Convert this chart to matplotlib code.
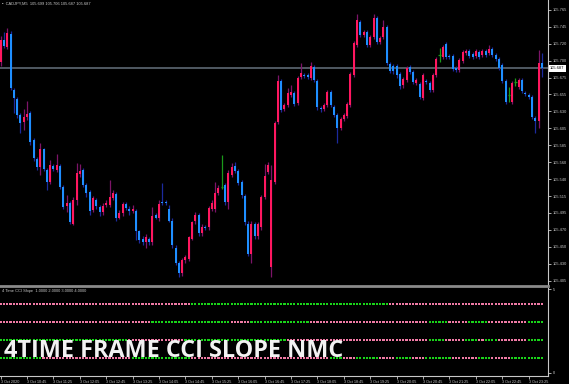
import numpy as np
import matplotlib
matplotlib.use("Agg")
import matplotlib.pyplot as plt
from matplotlib.transforms import blended_transform_factory

symbol_header = "CADJPY,M5  105.699 105.706 105.687 105.687"
indicator_header = "4 Time CCI Slope  1.0000 2.0000 3.0000 4.0000"
banner = "4TIME FRAME CCI SLOPE NMC"

# M5 candles
opens = [105.696, 105.725, 105.716, 105.733, 105.658, 105.646, 105.625, 105.616, 105.622, 105.628,
         105.592, 105.567, 105.556, 105.580, 105.552, 105.536, 105.557, 105.552, 105.557, 105.529,
         105.504, 105.508, 105.481, 105.512, 105.547, 105.552, 105.532, 105.523, 105.499, 105.512,
         105.503, 105.496, 105.505, 105.505, 105.515, 105.520, 105.489, 105.495, 105.507, 105.500,
         105.497, 105.497, 105.471, 105.461, 105.456, 105.460, 105.456, 105.492, 105.489, 105.509,
         105.509, 105.500, 105.485, 105.449, 105.428, 105.415, 105.432, 105.434, 105.461, 105.484,
         105.492, 105.468, 105.476, 105.476, 105.500, 105.500, 105.521, 105.529, 105.532, 105.509,
         105.545, 105.557, 105.551, 105.536, 105.517, 105.481, 105.441, 105.480, 105.464, 105.476,
         105.516, 105.549, 105.423, 105.536, 105.616, 105.670, 105.633, 105.638, 105.652, 105.654,
         105.641, 105.676, 105.678, 105.678, 105.674, 105.689, 105.670, 105.634, 105.633, 105.638,
         105.656, 105.636, 105.625, 105.608, 105.620, 105.624, 105.638, 105.678, 105.718, 105.749,
         105.731, 105.735, 105.718, 105.729, 105.754, 105.722, 105.729, 105.742, 105.693, 105.690,
         105.690, 105.680, 105.665, 105.672, 105.689, 105.682, 105.668, 105.666, 105.648, 105.670,
         105.668, 105.658, 105.678, 105.705, 105.702, 105.719, 105.704, 105.704, 105.688, 105.685,
         105.697, 105.708, 105.710, 105.706, 105.704, 105.709, 105.705, 105.710, 105.708, 105.713,
         105.705, 105.700, 105.692, 105.670, 105.652, 105.642, 105.669, 105.662, 105.672, 105.654,
         105.652, 105.649, 105.621, 105.617, 105.694]
highs = [105.730, 105.735, 105.741, 105.737, 105.661, 105.649, 105.628, 105.633, 105.644, 105.630,
         105.594, 105.569, 105.588, 105.582, 105.555, 105.565, 105.560, 105.574, 105.560, 105.532,
         105.519, 105.511, 105.516, 105.561, 105.560, 105.555, 105.535, 105.525, 105.517, 105.515,
         105.505, 105.508, 105.512, 105.539, 105.525, 105.523, 105.499, 105.509, 105.509, 105.504,
         105.505, 105.500, 105.473, 105.464, 105.467, 105.463, 105.503, 105.495, 105.512, 105.535,
         105.512, 105.505, 105.488, 105.452, 105.431, 105.435, 105.439, 105.465, 105.485, 105.496,
         105.495, 105.480, 105.479, 105.504, 105.512, 105.536, 105.532, 105.572, 105.535, 105.552,
         105.561, 105.563, 105.553, 105.539, 105.520, 105.484, 105.484, 105.483, 105.483, 105.519,
         105.560, 105.563, 105.559, 105.617, 105.678, 105.673, 105.641, 105.661, 105.665, 105.657,
         105.677, 105.694, 105.681, 105.681, 105.696, 105.692, 105.673, 105.637, 105.641, 105.658,
         105.658, 105.638, 105.628, 105.622, 105.628, 105.642, 105.682, 105.723, 105.759, 105.751,
         105.738, 105.738, 105.731, 105.759, 105.757, 105.730, 105.751, 105.745, 105.696, 105.693,
         105.693, 105.682, 105.676, 105.690, 105.692, 105.685, 105.674, 105.669, 105.681, 105.673,
         105.670, 105.681, 105.702, 105.714, 105.718, 105.722, 105.706, 105.706, 105.690, 105.701,
         105.712, 105.713, 105.713, 105.709, 105.713, 105.712, 105.713, 105.713, 105.718, 105.716,
         105.708, 105.702, 105.694, 105.673, 105.662, 105.670, 105.674, 105.674, 105.674, 105.657,
         105.654, 105.652, 105.624, 105.712, 105.708]
lows = [105.690, 105.714, 105.713, 105.658, 105.628, 105.621, 105.601, 105.605, 105.618, 105.586,
        105.564, 105.552, 105.545, 105.551, 105.525, 105.533, 105.551, 105.549, 105.527, 105.500,
        105.496, 105.480, 105.479, 105.505, 105.543, 105.529, 105.516, 105.493, 105.496, 105.500,
        105.491, 105.493, 105.503, 105.503, 105.512, 105.485, 105.487, 105.491, 105.499, 105.493,
        105.495, 105.459, 105.455, 105.452, 105.448, 105.453, 105.452, 105.487, 105.485, 105.505,
        105.505, 105.483, 105.449, 105.426, 105.410, 105.411, 105.429, 105.431, 105.459, 105.481,
        105.465, 105.465, 105.472, 105.473, 105.497, 105.496, 105.519, 105.527, 105.505, 105.500,
        105.543, 105.548, 105.532, 105.515, 105.479, 105.438, 105.429, 105.461, 105.461, 105.473,
        105.513, 105.547, 105.410, 105.533, 105.613, 105.629, 105.630, 105.636, 105.649, 105.637,
        105.638, 105.673, 105.674, 105.673, 105.672, 105.669, 105.632, 105.629, 105.630, 105.636,
        105.636, 105.622, 105.588, 105.605, 105.617, 105.621, 105.636, 105.676, 105.716, 105.729,
        105.729, 105.716, 105.716, 105.726, 105.719, 105.719, 105.726, 105.692, 105.681, 105.680,
        105.674, 105.660, 105.661, 105.669, 105.680, 105.666, 105.665, 105.646, 105.645, 105.666,
        105.656, 105.656, 105.676, 105.696, 105.700, 105.700, 105.700, 105.684, 105.682, 105.682,
        105.694, 105.705, 105.701, 105.700, 105.701, 105.700, 105.702, 105.702, 105.705, 105.702,
        105.697, 105.685, 105.668, 105.640, 105.642, 105.640, 105.664, 105.660, 105.654, 105.650,
        105.646, 105.620, 105.601, 105.608, 105.676]
closes = [105.725, 105.717, 105.734, 105.661, 105.648, 105.625, 105.614, 105.622, 105.626, 105.589,
          105.568, 105.556, 105.580, 105.553, 105.536, 105.559, 105.553, 105.559, 105.529, 105.503,
          105.508, 105.483, 105.512, 105.548, 105.551, 105.532, 105.521, 105.497, 105.515, 105.504,
          105.496, 105.504, 105.508, 105.516, 105.521, 105.489, 105.495, 105.507, 105.501, 105.497,
          105.500, 105.471, 105.459, 105.456, 105.463, 105.456, 105.491, 105.489, 105.507, 105.508,
          105.508, 105.485, 105.452, 105.429, 105.415, 105.432, 105.436, 105.463, 105.483, 105.492,
          105.468, 105.477, 105.475, 105.501, 105.508, 105.521, 105.528, 105.529, 105.509, 105.548,
          105.556, 105.551, 105.535, 105.519, 105.483, 105.441, 105.481, 105.465, 105.480, 105.516,
          105.544, 105.559, 105.539, 105.614, 105.670, 105.632, 105.638, 105.654, 105.656, 105.640,
          105.674, 105.681, 105.677, 105.676, 105.690, 105.672, 105.636, 105.633, 105.638, 105.656,
          105.638, 105.625, 105.608, 105.620, 105.625, 105.640, 105.680, 105.721, 105.751, 105.731,
          105.735, 105.718, 105.729, 105.754, 105.722, 105.727, 105.742, 105.694, 105.684, 105.684,
          105.678, 105.664, 105.673, 105.688, 105.682, 105.669, 105.672, 105.649, 105.678, 105.669,
          105.658, 105.678, 105.700, 105.705, 105.716, 105.702, 105.702, 105.686, 105.685, 105.698,
          105.709, 105.710, 105.704, 105.702, 105.710, 105.702, 105.710, 105.705, 105.713, 105.705,
          105.700, 105.688, 105.670, 105.642, 105.652, 105.668, 105.669, 105.672, 105.657, 105.653,
          105.649, 105.622, 105.617, 105.694, 105.687]
last_price = 105.687

price_labels = ["105.765", "105.745", "105.720", "105.700", "105.675", "105.655", "105.630",
                "105.605", "105.585", "105.560", "105.540", "105.515", "105.495", "105.470",
                "105.450", "105.430", "105.405"]
time_labels = ["3 Oct 2020", "3 Oct 10:45", "3 Oct 11:25", "3 Oct 12:05", "3 Oct 12:45",
               "3 Oct 13:25", "3 Oct 14:05", "3 Oct 14:45", "3 Oct 15:25", "3 Oct 16:05",
               "3 Oct 16:45", "3 Oct 17:25", "3 Oct 18:05", "3 Oct 18:45", "3 Oct 19:25",
               "3 Oct 20:05", "3 Oct 20:45", "3 Oct 21:25", "3 Oct 22:05", "3 Oct 22:45",
               "3 Oct 23:25"]

# CCI slope per timeframe, as runs of (state, bars): p = falling, g = rising
slope_tf4 = [("p", 58), ("g", 60), ("p", 47)]
slope_tf3 = [("p", 46), ("g", 24), ("p", 6), ("g", 18), ("p", 36), ("g", 6), ("p", 6), ("g", 6),
             ("p", 12), ("g", 5)]
slope_tf2 = [("g", 39), ("p", 17), ("g", 31), ("p", 43), ("g", 5), ("p", 6), ("g", 4), ("p", 2),
             ("g", 4), ("p", 9), ("g", 5)]
slope_tf1 = [("g", 13), ("p", 27), ("g", 18), ("p", 42), ("g", 4), ("p", 4), ("g", 7), ("p", 5),
             ("g", 5), ("p", 4), ("g", 8), ("p", 8), ("g", 4), ("p", 6), ("g", 10)]

BG = "#000000"
FG = "#c8c8c8"
UP, DOWN = "#ff175f", "#1e8fff"
UP_WICK, DOWN_WICK = "#7d1468", "#1c2a9e"
DOJI = "#1a9a1a"
DOT = {"p": "#f07aa5", "g": "#19d419"}
PX = 3.3  # pixels per bar
SMALL = dict(family="Liberation Sans", color=FG)


def draw_candles(ax):
    o, h, l, c = map(np.array, (opens, highs, lows, closes))
    x = np.arange(len(c))
    up = c > o
    down = c < o
    flat = ~(up | down)
    ax.vlines(x[up], l[up], h[up], color=UP_WICK, lw=0.9, zorder=2)
    ax.vlines(x[down], l[down], h[down], color=DOWN_WICK, lw=0.9, zorder=2)
    ax.vlines(x[flat], l[flat], h[flat], color=DOJI, lw=0.9, zorder=2)
    body = np.maximum(np.abs(c - o), 0.0012)
    ax.bar(x[up], body[up], bottom=o[up], width=0.62, color=UP, lw=0, zorder=3)
    ax.bar(x[down], body[down], bottom=c[down], width=0.62, color=DOWN, lw=0, zorder=3)
    ax.hlines(c[flat], x[flat] - 0.35, x[flat] + 0.35, color=DOJI, lw=0.9, zorder=3)


def style(ax):
    ax.set_facecolor(BG)
    for s in ("left", "top"):
        ax.spines[s].set_visible(False)
    ax.spines["right"].set_color(FG)
    ax.spines["right"].set_linewidth(0.8)
    ax.yaxis.tick_right()
    ax.tick_params(axis="y", colors=FG, labelsize=2.9, length=2, width=0.6, pad=1.5)


fig = plt.figure(figsize=(5.69, 3.84), dpi=100, facecolor=BG)
W, H = 569, 384
xlim = (-0.2, 548 / PX - 0.2)

ax = fig.add_axes([0, (H - 286) / H, 548 / W, 286 / H])
style(ax)
ax.spines["bottom"].set_color("#8a8a8a")
ax.spines["bottom"].set_linewidth(2.0)
draw_candles(ax)
ax.axhline(last_price, color="#56606a", lw=1.3, zorder=1)
ax.set_xlim(*xlim)
ax.set_ylim(105.398, 105.778)
ax.set_xticks([])
ax.set_yticks(np.linspace(105.765, 105.405, len(price_labels)))
ax.set_yticklabels(price_labels, family="Liberation Sans")
tr = blended_transform_factory(ax.transAxes, ax.transData)
ax.text(1.004, last_price, f"{last_price:.3f}", transform=tr, fontsize=2.9, color="black",
        family="Liberation Sans", va="center", ha="left",
        bbox=dict(facecolor="white", edgecolor="none", pad=0.8))
ax.text(0.003, 0.995, "\u25aa  " + symbol_header, transform=ax.transAxes, fontsize=2.9,
        va="top", ha="left", **SMALL)

ia = fig.add_axes([0, (H - 376) / H, 548 / W, 88 / H])
style(ia)
ia.spines["top"].set_color("#8a8a8a")
ia.spines["top"].set_linewidth(1.2)
ia.spines["bottom"].set_color(FG)
ia.spines["bottom"].set_linewidth(0.8)
for level, runs in zip((4, 3, 2, 1), (slope_tf4, slope_tf3, slope_tf2, slope_tf1)):
    states = [s for s, k in runs for _ in range(k)]
    xs = np.arange(len(states))
    ia.scatter(xs, np.full(len(xs), level), c=[DOT[s] for s in states], marker="s", s=2.6,
               linewidths=0, zorder=2)
ia.set_xlim(*xlim)
ia.set_ylim(0, 4.89)
ia.set_yticks([0.17, 4.83])
ia.set_yticklabels(["0", "5"], family="Liberation Sans")
ia.set_xticks(np.arange(len(time_labels)) * 8)
ia.set_xticklabels(time_labels, ha="left", family="Liberation Sans")
ia.tick_params(axis="x", colors=FG, labelsize=2.7, length=2.5, width=0.6, pad=0.3)
ia.text(0.004, 0.985, indicator_header, transform=ia.transAxes, fontsize=2.9, va="top",
        ha="left", **SMALL)
ia.text(0.007, (376 - 357) / 88, banner, transform=ia.transAxes, fontsize=16.8,
        color="#f2f2f2", fontweight="bold", family="Open Sans", va="baseline", ha="left",
        zorder=5)

fig.savefig("out.png", dpi=100, facecolor=BG)
